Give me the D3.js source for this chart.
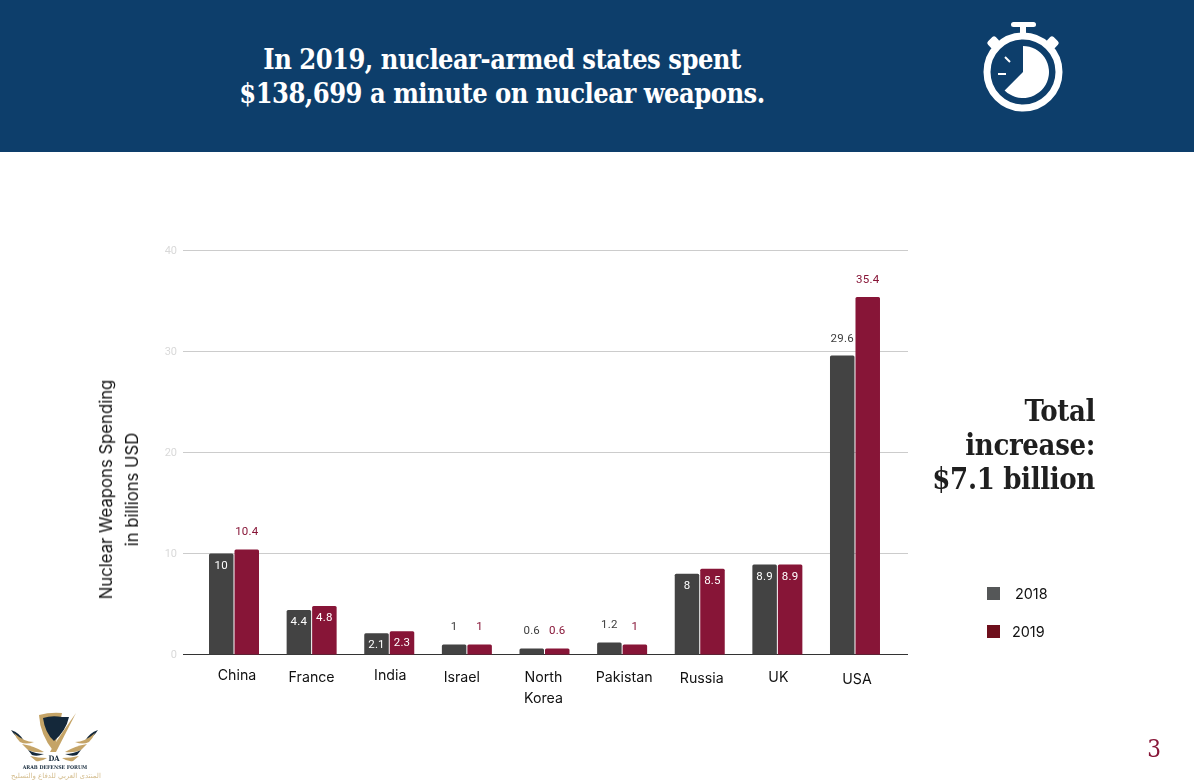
<!DOCTYPE html>
<html><head><meta charset="utf-8">
<script src="https://cdn.jsdelivr.net/npm/d3@7"></script>
<style>html,body{margin:0;padding:0;background:#fff;overflow:hidden}svg{display:block;opacity:.999}</style>
</head><body><svg id="c" width="1194" height="783"></svg>
<script>
const categories = ["China","France","India","Israel","North Korea","Pakistan","Russia","UK","USA"];
const values2018 = [10,4.4,2.1,1,0.6,1.2,8,8.9,29.6];
const values2019 = [10.4,4.8,2.3,1,0.6,1,8.5,8.9,35.4];
const inside2018 = [true,true,true,false,false,false,true,true,false];
const inside2019 = [false,true,true,false,false,false,true,true,false];
const yTicks = [0,10,20,30,40];
const titleLines = ["In 2019, nuclear-armed states spent","$138,699 a minute on nuclear weapons."];
const sideLines = ["Total","increase:","$7.1 billion"];
const yTitleLines = ["Nuclear Weapons Spending","in billions USD"];
const legendItems = [["2018","#555758"],["2019","#6e0f1c"]];
// hand-set label nudges seen in the reference: [dx, dy]
const labelNudge = [[3,-2],[0,0],[1,-2],[-5,0],[-1,0],[2,0],[2,1],[1,0],[2,2]];

const svg = d3.select("#c");
const serif = "'DejaVu Serif Condensed','DejaVu Serif',serif";
const sans = "Inter";
const C18="#434343", C19="#871537";

svg.append("rect").attr("width",1194).attr("height",152).attr("fill","#0d3e6b");
const title = svg.append("text").attr("text-anchor","middle").attr("fill","#fff")
  .attr("font-family",serif).attr("font-weight",700).attr("font-size",27).attr("letter-spacing",-0.5);
title.selectAll("tspan").data(titleLines).join("tspan").attr("x",502).attr("y",(d,i)=>69+i*34).text(d=>d);

// stopwatch
const ic = svg.append("g").attr("transform","translate(1023,72)");
ic.append("circle").attr("r",36).attr("fill","none").attr("stroke","#fff").attr("stroke-width",7);
ic.append("rect").attr("x",-12).attr("y",-50).attr("width",25).attr("height",5).attr("rx",2.5).attr("fill","#fff");
ic.append("rect").attr("x",-3).attr("y",-47).attr("width",6).attr("height",12).attr("fill","#fff");
[-1,1].forEach(s=>{
  ic.append("rect").attr("x",-5.5).attr("y",-4).attr("width",11).attr("height",9).attr("rx",2.5).attr("fill","#fff")
    .attr("transform",`translate(${s*30},-30) rotate(${s*45})`);
});
ic.append("path").attr("fill","#fff")
  .attr("d",d3.arc()({innerRadius:0,outerRadius:26,startAngle:0,endAngle:Math.PI*1.25}));
ic.append("line").attr("x1",-18).attr("y1",-15).attr("x2",-13).attr("y2",-10).attr("stroke","#fff").attr("stroke-width",2);
ic.append("line").attr("x1",-25).attr("y1",2).attr("x2",-17).attr("y2",2).attr("stroke","#fff").attr("stroke-width",2);

// chart
const x = d3.scaleBand().domain(categories).range([195.2,893.8]).paddingInner(0.365).paddingOuter(0.1825);
const y = d3.scaleLinear().domain([0,40]).range([654.5,250.5]);
const bw = 24.5, gap = 1;

const gy = svg.append("g").attr("transform","translate(183,0)")
  .call(d3.axisRight(y).tickValues(yTicks).tickSize(725).offset(0));
gy.select(".domain").remove();
gy.selectAll(".tick line").attr("stroke",d=>d===0?"#333":"#ccc");
gy.selectAll(".tick text").attr("text-anchor","end").attr("x",-6).attr("fill","#d9d9d9")
  .attr("font-family","Roboto").attr("font-size",11);

const rows = categories.map((c,i)=>({c,i}));
const series = [
 {v:values2018,ins:inside2018,col:C18,off:-bw-gap/2},
 {v:values2019,ins:inside2019,col:C19,off:gap/2}];
series.forEach(s=>{
  const cx = d=>x(d.c)+x.bandwidth()/2+s.off;
  svg.append("g").selectAll("path").data(rows).join("path").attr("fill",s.col)
   .attr("d",d=>{const a=cx(d),t=y(s.v[d.i]),b=y(0),r=1.5;
     return `M${a},${b}V${t+r}Q${a},${t} ${a+r},${t}H${a+bw-r}Q${a+bw},${t} ${a+bw},${t+r}V${b}Z`;});
  svg.append("g").selectAll("text").data(rows).join("text")
   .attr("text-anchor","middle").attr("font-family","Roboto").attr("font-size",11.5).attr("letter-spacing",0.2)
   .attr("x",d=>cx(d)+bw/2)
   .attr("y",d=>y(s.v[d.i])+(s.ins[d.i]?15:-14))
   .attr("fill",d=>s.ins[d.i]?"#fff":(s===series[0]?"#3c3c3c":C19))
   .text(d=>s.v[d.i]);
});

// category labels
const lab = svg.append("g").selectAll("text").data(rows).join("text")
  .attr("text-anchor","middle").attr("font-family",sans).attr("font-size",14.2).attr("fill","#111")
  .attr("transform",d=>`translate(${x(d.c)+x.bandwidth()/2+labelNudge[d.i][0]},${682+labelNudge[d.i][1]})`);
lab.each(function(d){
  d3.select(this).selectAll("tspan").data(d.c==="North Korea"?["North","Korea"]:[d.c]).join("tspan")
    .attr("x",0).attr("y",(t,i)=>i*21).text(t=>t);
});

// y title
const yt = svg.append("text").attr("transform","translate(0,489.5) rotate(-90)")
  .attr("text-anchor","middle").attr("font-family",sans).attr("font-size",16.7).attr("fill","#111");
yt.selectAll("tspan").data(yTitleLines).join("tspan").attr("x",0).attr("y",(d,i)=>111.5+i*26).text(d=>d);

// side note
const st = svg.append("text").attr("text-anchor","end").attr("font-family",serif).attr("font-weight",700)
  .attr("font-size",29).attr("letter-spacing",-0.35).attr("fill","#1f1f1f");
st.selectAll("tspan").data(sideLines).join("tspan").attr("x",1095).attr("y",(d,i)=>421+i*34).text(d=>d);

// legend
const lg = svg.append("g").selectAll("g").data(legendItems).join("g")
  .attr("transform",(d,i)=>`translate(987,${587+i*38})`);
lg.append("rect").attr("width",13).attr("height",13).attr("fill",d=>d[1]);
lg.append("text").attr("x",(d,i)=>i?25:28).attr("y",12).attr("font-family",sans).attr("font-size",14.4).attr("fill","#111").text(d=>d[0]);

// page number
svg.append("text").attr("x",1154).attr("y",757).attr("text-anchor","middle").attr("font-family",serif)
  .attr("font-size",24).attr("fill","#871537").text("3");

// logo
const lo = svg.append("g");
const gold="#c5a467", dark="#14283a";
lo.append("path").attr("fill",gold).attr("d","M39,715 Q50,712 62,713 L54,752 Q40,735 39,715Z");
lo.append("path").attr("fill",dark).attr("d","M43,718 Q52,715 62,717 L69,717 Q66,731 54,741 Q45,733 43,718Z");
lo.append("path").attr("fill",gold).attr("d","M50,752 L56,752 L76,713 L62,733 L54,745 Z");
[[1,0],[-1,109]].forEach(([s,t])=>{
  const w = lo.append("g").attr("transform",`translate(${t},0) scale(${s},1)`);
  w.append("path").attr("fill",dark).attr("d","M11,730 Q20,733 24,741 Q16,738 11,730Z");
  w.append("path").attr("fill",gold).attr("d","M14,733 Q24,742 34,742 Q26,745 20,742 Q16,738 14,733Z");
  w.append("path").attr("fill",gold).attr("d","M22,744 Q34,746 44,752 Q34,753 28,750Z");
  w.append("path").attr("fill",dark).attr("d","M28,750 Q36,754 44,754 Q37,757 32,755Z");
  w.append("path").attr("fill",gold).attr("d","M30,756 Q38,758 47,758 Q41,762 36,761Z");
});
lo.append("text").attr("x",54).attr("y",761).attr("text-anchor","middle").attr("font-family",serif)
  .attr("font-weight",700).attr("font-size",7.5).attr("fill",dark).text("DA");
lo.append("text").attr("x",55).attr("y",768.5).attr("text-anchor","middle").attr("font-family",serif)
  .attr("font-weight",700).attr("font-size",5.2).attr("fill",dark).text("ARAB DEFENSE FORUM");
lo.append("text").attr("x",56).attr("y",778).attr("text-anchor","middle").attr("font-family","'DejaVu Sans'")
  .attr("font-size",7).attr("fill","#d4bd8e").text("المنتدى العربي للدفاع والتسليح");
</script></body></html>
